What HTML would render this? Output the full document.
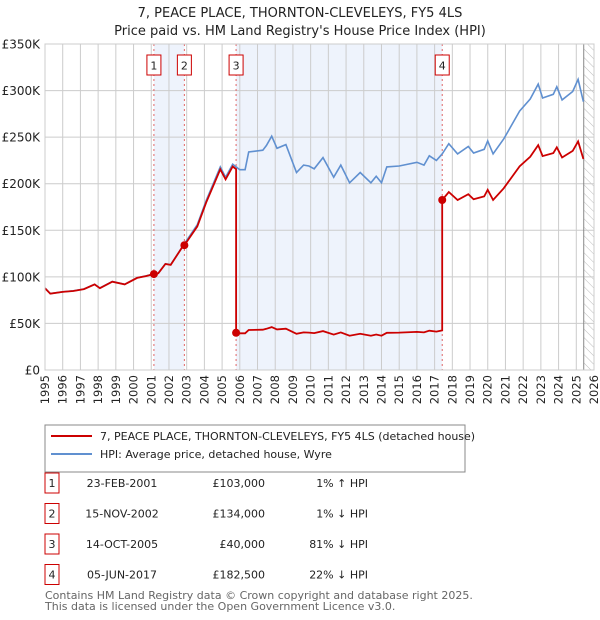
<!DOCTYPE html>
<html><head><meta charset="utf-8"><style>
body{margin:0;background:#fff;font-family:"DejaVu Sans","Liberation Sans",sans-serif;}
#wrap{position:relative;width:600px;height:620px;overflow:hidden;}
svg text{font-family:"DejaVu Sans","Liberation Sans",sans-serif;}
</style></head><body>
<div id="wrap">
<svg id="chart" width="600" height="620" xmlns="http://www.w3.org/2000/svg"></svg>
</div>
<script>
const hpiYears=[1995.0,1995.3,1996.0,1996.6,1997.2,1997.8,1998.1,1998.8,1999.5,2000.2,2000.7,2001.1,2001.4,2001.8,2002.1,2002.85,2003.6,2004.1,2004.9,2005.2,2005.6,2006.0,2006.3,2006.5,2007.3,2007.5,2007.8,2008.1,2008.6,2009.2,2009.6,2009.9,2010.2,2010.7,2011.3,2011.7,2012.2,2012.8,2013.4,2013.7,2014.0,2014.3,2015.0,2016.0,2016.4,2016.7,2017.1,2017.43,2017.8,2018.3,2018.9,2019.2,2019.8,2020.0,2020.3,2020.9,2021.8,2022.4,2022.85,2023.1,2023.7,2023.9,2024.2,2024.8,2025.1,2025.4];
const hpiValues=[88,82,84,85,87,92,88,95,92,99,101,103,104,114,113,135,156,182,218,207,221,215,215,234,236,241,251,238,242,212,220,219,216,228,207,220,201,212,201,208,201,218,219,223,220,230,225,232,243,232,240,233,237,246,232,248,278,291,307,292,296,304,290,299,312,288];
const saleDates=[2001.15,2002.87,2005.79,2017.43];
const salePrices=[103,134,40,182.5];
const saleLabels=["1","2","3","4"];
const yTicks=[0,50,100,150,200,250,300,350];
const yTickLabels=["£0","£50K","£100K","£150K","£200K","£250K","£300K","£350K"];
const xYears=[1995,1996,1997,1998,1999,2000,2001,2002,2003,2004,2005,2006,2007,2008,2009,2010,2011,2012,2013,2014,2015,2016,2017,2018,2019,2020,2021,2022,2023,2024,2025,2026];
const tableDates=["23-FEB-2001","15-NOV-2002","14-OCT-2005","05-JUN-2017"];
const tablePrices=["£103,000","£134,000","£40,000","£182,500"];
const tableHpi=["1% ↑ HPI","1% ↓ HPI","81% ↓ HPI","22% ↓ HPI"];

const L=45,R=594,T=44,B=370,Y0=1995,Y1=2026,VMAX=350;
const sx=y=>L+(y-Y0)/(Y1-Y0)*(R-L);
const sy=v=>B-v/VMAX*(B-T);
const svg=document.getElementById('chart');
const NS='http://www.w3.org/2000/svg';
function mk(tag,attrs,parent){const e=document.createElementNS(NS,tag);for(const k in attrs)e.setAttribute(k,attrs[k]);(parent||svg).appendChild(e);return e;}
function hpiAt(t){for(let i=0;i<hpiYears.length-1;i++){if(t<=hpiYears[i+1]){const f=(t-hpiYears[i])/(hpiYears[i+1]-hpiYears[i]);return hpiValues[i]+f*(hpiValues[i+1]-hpiValues[i]);}}return hpiValues[hpiValues.length-1];}

let t=mk('text',{x:300,y:17,'text-anchor':'middle','font-size':13,fill:'#222'});t.textContent='7, PEACE PLACE, THORNTON-CLEVELEYS, FY5 4LS';


t=mk('text',{x:300,y:35,'text-anchor':'middle','font-size':13,fill:'#222'});t.textContent="Price paid vs. HM Land Registry's House Price Index (HPI)";



for(let i=0;i<saleDates.length;i+=2){
 const r=mk('rect',{x:sx(saleDates[i]),y:T,width:sx(saleDates[i+1])-sx(saleDates[i]),height:B-T,fill:'#eef3fc'});
 
 
}
const defs=mk('defs',{});
const pat=mk('pattern',{id:'hatch',width:6,height:6,patternUnits:'userSpaceOnUse',patternTransform:'rotate(-45)'},defs);
mk('line',{x1:0,y1:0,x2:0,y2:6,stroke:'#bbb','stroke-width':1},pat);
let h=mk('rect',{x:sx(2025.42),y:T,width:R-sx(2025.42),height:B-T,fill:'url(#hatch)'});



xYears.forEach(y=>{const l=mk('line',{x1:sx(y),x2:sx(y),y1:T,y2:B,stroke:'#ccc','stroke-width':1});
 
 
 const tx=mk('text',{transform:`translate(${sx(y)+4},375) rotate(-90)`,'text-anchor':'end','font-size':11.5,fill:'#222'});tx.textContent=y;
 
 
});
yTicks.forEach((v,i)=>{const l=mk('line',{x1:L,x2:R,y1:sy(v),y2:sy(v),stroke:'#ccc','stroke-width':1});
 
 
 const tx=mk('text',{x:40,y:sy(v)+4.5,'text-anchor':'end','font-size':12,fill:'#222'});tx.textContent=yTickLabels[i];
 
 
});
mk('line',{x1:sx(2025.42),x2:sx(2025.42),y1:T,y2:B,stroke:'#888','stroke-width':1});

saleDates.forEach(d=>{const l=mk('line',{x1:sx(d),x2:sx(d),y1:T,y2:B,stroke:'#e06666','stroke-width':1,'stroke-dasharray':'2,3'});
 
 
});

let pts=hpiYears.map((y,i)=>sx(y).toFixed(1)+','+sy(hpiValues[i]).toFixed(1)).join(' ');
let hl=mk('polyline',{points:pts,fill:'none',stroke:'#6090d0','stroke-width':1.6});



let rp=[];
const startScale=salePrices[0]/hpiAt(saleDates[0]);
hpiYears.forEach((y,i)=>{
 let k=-1;for(let j=0;j<saleDates.length;j++)if(saleDates[j]<=y)k=j;
 rp.push([y,k<0?hpiValues[i]*startScale:salePrices[k]*hpiValues[i]/hpiAt(saleDates[k])]);
});
saleDates.forEach((d,k)=>{
 const prev=k===0?hpiAt(d)*startScale:salePrices[k-1]*hpiAt(d)/hpiAt(saleDates[k-1]);
 rp.push([d-0.0001,prev]);rp.push([d,salePrices[k]]);
});
rp.sort((a,b)=>a[0]-b[0]);
let rl=mk('polyline',{points:rp.map(p=>sx(p[0]).toFixed(1)+','+sy(p[1]).toFixed(1)).join(' '),fill:'none',stroke:'#cc0000','stroke-width':1.8});



saleDates.forEach((d,i)=>{
 const c=mk('circle',{cx:sx(d),cy:sy(salePrices[i]),r:4,fill:'#cc0000'});
 
 
 const bx=mk('rect',{x:sx(d)-7,y:55,width:14,height:20,fill:'#fff',stroke:'#cc0000','stroke-width':1});
 
 
 const tx=mk('text',{x:sx(d),y:69.5,'text-anchor':'middle','font-size':11,fill:'#222'});tx.textContent=saleLabels[i];
 
 
});
mk('rect',{x:L,y:T,width:R-L,height:B-T,fill:'none',stroke:'#ccc','stroke-width':1});

let lg=mk('rect',{x:45,y:425,width:420,height:47,fill:'#fff',stroke:'#888','stroke-width':1});


mk('line',{x1:51,x2:92,y1:436,y2:436,stroke:'#cc0000','stroke-width':2});
mk('line',{x1:51,x2:92,y1:454,y2:454,stroke:'#6090d0','stroke-width':2});
t=mk('text',{x:100,y:440,'font-size':11,fill:'#222'});t.textContent='7, PEACE PLACE, THORNTON-CLEVELEYS, FY5 4LS (detached house)';


t=mk('text',{x:100,y:458,'font-size':11,fill:'#222'});t.textContent='HPI: Average price, detached house, Wyre';



tableDates.forEach((d,i)=>{
 const cy=483+i*30.5;
 const b=mk('rect',{x:45,y:cy-10,width:14,height:20,fill:'#fff',stroke:'#cc0000','stroke-width':1});
 
 
 let tx=mk('text',{x:52,y:cy+4,'text-anchor':'middle','font-size':11,fill:'#222'});tx.textContent=saleLabels[i];
 tx=mk('text',{x:122,y:cy+4,'text-anchor':'middle','font-size':11,fill:'#222'});tx.textContent=d;
 
 
 tx=mk('text',{x:265,y:cy+4,'text-anchor':'end','font-size':11,fill:'#222'});tx.textContent=tablePrices[i];
 
 
 tx=mk('text',{x:368,y:cy+4,'text-anchor':'end','font-size':11,fill:'#222'});tx.textContent=tableHpi[i];
 
 
});
t=mk('text',{x:45,y:599,'font-size':11,fill:'#666'});t.textContent='Contains HM Land Registry data © Crown copyright and database right 2025.';


t=mk('text',{x:45,y:610,'font-size':11,fill:'#666'});t.textContent='This data is licensed under the Open Government Licence v3.0.';


</script>
</body></html>
